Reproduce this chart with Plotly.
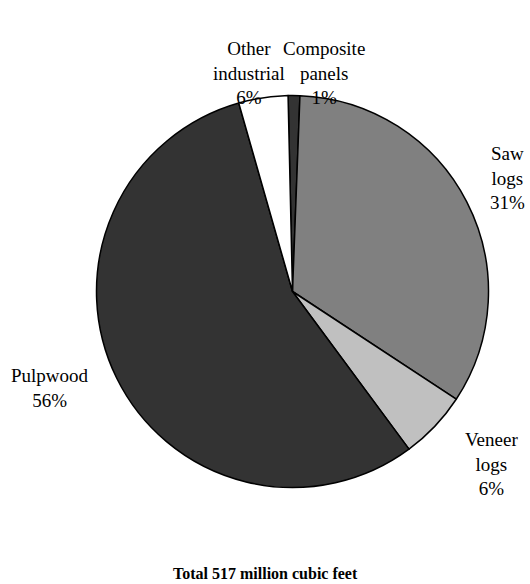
import plotly.graph_objects as go

W, H = 530, 584

# million cubic feet (total 517)
categories = ['Composite panels', 'Saw logs', 'Veneer logs', 'Pulpwood', 'Other industrial']
volumes = [5, 174, 29, 288, 21]
pct_labels = ['1%', '31%', '6%', '56%', '6%']
colors = ['#333333', '#808080', '#c0c0c0', '#333333', '#ffffff']

label_lines = {
    'Composite panels': 'Composite<br>panels',
    'Saw logs': 'Saw<br>logs',
    'Veneer logs': 'Veneer<br>logs',
    'Pulpwood': 'Pulpwood',
    'Other industrial': 'Other<br>industrial',
}
# label anchors in pixels (centre of text block)
label_pos = {
    'Composite panels': (324, 73),
    'Saw logs': (507, 178),
    'Veneer logs': (491, 464),
    'Pulpwood': (50, 388),
    'Other industrial': (249, 73),
}

cx, cy, r = 292.5, 291.5, 196

fig = go.Figure()
fig.add_trace(go.Pie(
    labels=categories, values=volumes, sort=False, direction='clockwise',
    rotation=-1.3, textinfo='none', hoverinfo='label+percent',
    marker=dict(colors=colors, line=dict(color='black', width=1.5)),
    domain=dict(x=[(cx - r) / W, (cx + r) / W], y=[1 - (cy + r) / H, 1 - (cy - r) / H]),
    showlegend=False,
))

font = dict(family='Liberation Serif, Times New Roman, serif', size=19, color='black')
annotations = []
for cat, pct in zip(categories, pct_labels):
    px_, py_ = label_pos[cat]
    annotations.append(dict(
        x=px_ / W, y=1 - py_ / H, xref='paper', yref='paper',
        text=label_lines[cat] + '<br>' + pct, showarrow=False,
        font=font, align='center', xanchor='center', yanchor='middle'))
annotations.append(dict(
    x=265 / W, y=1 - 573 / H, xref='paper', yref='paper',
    text='<b>Total 517 million cubic feet</b>', showarrow=False,
    font=dict(family='Liberation Serif, Times New Roman, serif', size=16, color='black'),
    xanchor='center', yanchor='middle'))

fig.update_layout(
    width=W, height=H, margin=dict(l=0, r=0, t=0, b=0),
    paper_bgcolor='white', plot_bgcolor='white',
    annotations=annotations,
)

# drop the default page margin so the figure fills the window
fig.write_html('out.html', config={'displayModeBar': False},
               post_script="document.body.style.margin='0px';")
